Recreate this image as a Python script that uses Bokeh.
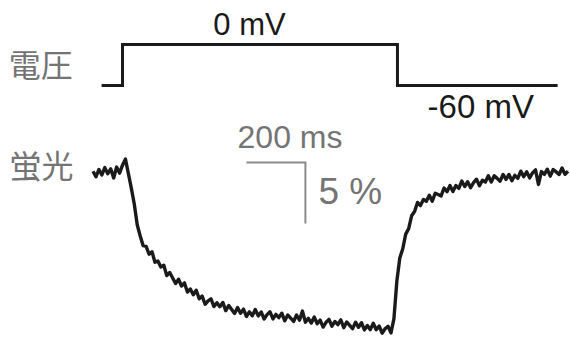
from bokeh.plotting import figure
from bokeh.models import Range1d
from bokeh.core.properties import value
from bokeh.embed import file_html
from bokeh.resources import INLINE

# ---- data ----
# command voltage (mV) vs time (ms)
v_time = [-71, 0, 0, 932, 932, 1475]
v_mv = [-60, -60, 0, 0, -60, -60]

# fluorescence change (%) sampled every 10 ms starting at -100 ms
f_time = list(range(-100, 1520, 10))
f_pct = [
    0.1, -0.35, 0.25, -0.2, 0.4, -0.1, 0.3, -0.45, 0.45, -0.05,
    0.6, 1.1, -0.1, -1.3, -2.6, -4.3, -5.2, -6.0, -6.05, -6.7,
    -6.5, -7.35, -7.25, -7.75, -7.6, -8.45, -8.2, -8.65, -9.1, -8.75,
    -9.3, -9.05, -9.8, -9.55, -10.02, -9.65, -10.35, -10.13, -10.8, -10.52,
    -10.36, -10.99, -10.67, -11.0, -10.65, -11.32, -10.9, -11.23, -11.55, -11.07,
    -11.53, -11.2, -11.8, -11.42, -11.75, -11.23, -11.75, -11.43, -12.01, -11.65,
    -11.42, -12.0, -11.63, -11.9, -11.53, -12.16, -11.68, -11.94, -12.21, -11.68,
    -12.1, -11.36, -12.27, -11.96, -12.34, -11.85, -12.4, -12.1, -12.67, -12.28,
    -12.04, -12.6, -12.21, -12.47, -12.08, -12.72, -12.25, -12.53, -12.8, -12.27,
    -12.69, -12.31, -12.9, -12.54, -12.88, -12.36, -12.89, -12.58, -13.17, -12.81,
    -12.6, -13.15, -12.0, -8.9, -7.0, -6.25, -5.05, -4.6, -3.55, -3.2,
    -2.45, -2.71, -2.21, -2.36, -1.86, -2.35, -1.7, -1.8, -1.92, -1.27,
    -1.57, -1.07, -1.55, -1.07, -1.3, -0.7, -1.15, -0.75, -1.25, -0.83,
    -0.55, -1.08, -0.63, -0.78, -0.27, -0.78, -0.26, -0.48, -0.71, -0.16,
    -0.56, -0.16, -0.68, -0.23, -0.48, 0.11, -0.34, 0.06, -0.44, -0.03,
    0.22, -0.98, 0.08, -0.15, 0.27, -0.3, 0.25, 0.05, -0.16, 0.37, -0.15, 0.1,
]

# scale bar: 200 ms horizontal, 5 % vertical
sb_time = [420, 620, 620]
sb_pct = [0.82, 0.82, -4.18]

# labels
v_label = "電圧"
f_label = "蛍光"
v_hold_label = "0 mV"
v_rest_label = "-60 mV"
t_scale_label = "200 ms"
f_scale_label = "5 %"

# ---- figure ----
p = figure(width=570, height=340, output_backend="svg", toolbar_location=None,
           x_axis_type=None, y_axis_type=None,
           x_range=Range1d(-413.6, 1518.6), y_range=Range1d(-13.77, 14.10),
           min_border=0, outline_line_color=None)
p.extra_y_ranges = {"v": Range1d(-433.4, 64.45)}
p.xgrid.visible = False
p.ygrid.visible = False
p.background_fill_color = "white"
p.border_fill_color = "white"

FONT = value("Liberation Sans")
CJK = value("Noto Sans CJK JP")
GRAY = "#747474"
INK = "#1a1a1a"

# voltage trace
p.line(v_time, v_mv, y_range_name="v", line_color=INK, line_width=3,
       line_join="miter")

# fluorescence trace
p.line(f_time, f_pct, line_color=INK, line_width=3.4, line_join="round")

# scale bar
p.line(sb_time, sb_pct, line_color="#8a8a8a", line_width=2, line_join="miter")

# texts
p.text(x=[308], y=[28.6], text=[v_hold_label], y_range_name="v",
       text_font=FONT, text_font_size="31px", text_color=INK,
       text_baseline="alphabetic", text_align="left")
p.text(x=[1034], y=[-90.7], text=[v_rest_label], y_range_name="v",
       text_font=FONT, text_font_size="33px", text_color=INK,
       text_baseline="alphabetic", text_align="left")
p.text(x=[-386], y=[-27.1], text=[v_label], y_range_name="v",
       text_font=CJK, text_font_size="32px", text_color=GRAY,
       text_baseline="middle", text_align="left")
p.text(x=[-383], y=[0.66], text=[f_label],
       text_font=CJK, text_font_size="32px", text_color=GRAY,
       text_baseline="middle", text_align="left")
p.text(x=[390], y=[2.95], text=[t_scale_label],
       text_font=FONT, text_font_size="32px", text_color=GRAY,
       text_baseline="alphabetic", text_align="left")
p.text(x=[664], y=[-1.52], text=[f_scale_label],
       text_font=FONT, text_font_size="37px", text_color=GRAY,
       text_baseline="alphabetic", text_align="left")

open("out.html", "w").write(file_html(p, INLINE))
